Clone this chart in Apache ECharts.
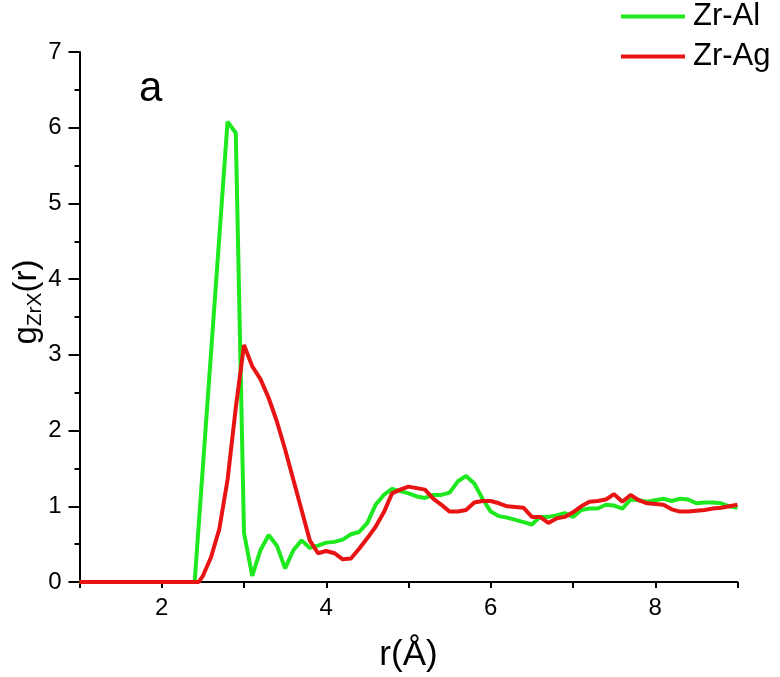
<!DOCTYPE html>
<html>
<head>
<meta charset="utf-8">
<script src="https://cdn.jsdelivr.net/npm/echarts@6/dist/echarts.min.js"></script>
<style>html,body{margin:0;padding:0;background:#fff}#c{width:780px;height:677px}</style>
</head>
<body>
<div id="c"></div>
<script>
var seriesNames = ['Zr-Al', 'Zr-Ag'];
var rAl = [1.0, 2.4, 2.8, 2.9, 3.0, 3.1, 3.2, 3.3, 3.4, 3.5, 3.6, 3.7, 3.8, 3.9, 4.0, 4.1, 4.2, 4.3, 4.4, 4.5, 4.6, 4.7, 4.8, 4.9, 5.0, 5.1, 5.2, 5.3, 5.4, 5.5, 5.6, 5.7, 5.8, 5.9, 6.0, 6.1, 6.2, 6.3, 6.4, 6.5, 6.6, 6.7, 6.8, 6.9, 7.0, 7.1, 7.2, 7.3, 7.4, 7.5, 7.6, 7.7, 7.8, 7.9, 8.0, 8.1, 8.2, 8.3, 8.4, 8.5, 8.6, 8.7, 8.8, 8.9, 9.0];
var gAl = [0, 0, 6.08, 5.93, 0.65, 0.08, 0.42, 0.62, 0.48, 0.18, 0.42, 0.55, 0.45, 0.48, 0.52, 0.53, 0.56, 0.63, 0.66, 0.78, 1.02, 1.15, 1.23, 1.20, 1.17, 1.13, 1.11, 1.15, 1.15, 1.18, 1.33, 1.40, 1.30, 1.10, 0.93, 0.87, 0.85, 0.82, 0.79, 0.76, 0.86, 0.86, 0.88, 0.91, 0.86, 0.95, 0.97, 0.97, 1.02, 1.01, 0.97, 1.09, 1.08, 1.06, 1.08, 1.10, 1.07, 1.10, 1.09, 1.04, 1.05, 1.05, 1.04, 1.00, 0.98];
var rAg = [1.0, 2.45, 2.5, 2.6, 2.7, 2.8, 2.9, 3.0, 3.1, 3.2, 3.3, 3.4, 3.5, 3.6, 3.7, 3.8, 3.9, 4.0, 4.1, 4.2, 4.3, 4.4, 4.5, 4.6, 4.7, 4.8, 4.9, 5.0, 5.1, 5.2, 5.3, 5.4, 5.5, 5.6, 5.7, 5.8, 5.9, 6.0, 6.1, 6.2, 6.3, 6.4, 6.5, 6.6, 6.7, 6.8, 6.9, 7.0, 7.1, 7.2, 7.3, 7.4, 7.5, 7.6, 7.7, 7.8, 7.9, 8.0, 8.1, 8.2, 8.3, 8.4, 8.5, 8.6, 8.7, 8.8, 8.9, 9.0];
var gAg = [0, 0, 0.08, 0.33, 0.70, 1.35, 2.30, 3.13, 2.85, 2.68, 2.43, 2.12, 1.75, 1.35, 0.95, 0.55, 0.38, 0.41, 0.38, 0.30, 0.31, 0.44, 0.58, 0.73, 0.92, 1.17, 1.22, 1.26, 1.24, 1.22, 1.10, 1.02, 0.93, 0.93, 0.95, 1.05, 1.07, 1.07, 1.04, 1.00, 0.99, 0.98, 0.86, 0.86, 0.78, 0.84, 0.86, 0.92, 1.00, 1.06, 1.07, 1.09, 1.16, 1.06, 1.15, 1.08, 1.04, 1.03, 1.02, 0.96, 0.93, 0.93, 0.94, 0.95, 0.97, 0.98, 1.00, 1.02];
var xTickLabels = ['2', '4', '6', '8'];
var yTickLabels = ['0', '1', '2', '3', '4', '5', '6', '7'];

function pairs(xs, ys) { return xs.map(function (x, i) { return [x, ys[i]]; }); }

var mainFont = 'Liberation Sans';

var chart = echarts.init(document.getElementById('c'));
chart.setOption({
  animation: false,
  backgroundColor: '#fff',
  grid: { left: 79.5, right: 42.5, top: 52, bottom: 95, containLabel: false, outerBoundsMode: 'none' },
  legend: {
    orient: 'vertical', left: 621, top: 1, padding: 0, itemGap: 9,
    itemWidth: 64, itemHeight: 4, icon: 'rect',
    textStyle: { fontSize: 31, fontFamily: mainFont, color: '#000', padding: [0, 0, 0, 3] },
    data: seriesNames
  },
  xAxis: {
    type: 'value', min: 1, max: 9, interval: 1,
    name: 'r(Å)', nameLocation: 'middle', nameGap: 56,
    nameTextStyle: { fontSize: 35, fontFamily: mainFont, color: '#000' },
    axisLine: { show: true, onZero: false, lineStyle: { color: '#000', width: 2 } },
    axisTick: { show: true, inside: false, length: 6, lineStyle: { color: '#000', width: 2 } },
    axisLabel: {
      margin: 14, fontSize: 24, fontFamily: mainFont, color: '#000',
      formatter: function (v) { var s = String(v); return xTickLabels.indexOf(s) >= 0 ? s : ''; }
    },
    splitLine: { show: false }
  },
  yAxis: {
    type: 'value', min: 0, max: 7, interval: 1,
    axisLine: { show: true, lineStyle: { color: '#000', width: 2 } },
    axisTick: { show: true, inside: false, length: 11, lineStyle: { color: '#000', width: 2 } },
    minorTick: { show: true, splitNumber: 2, length: 5, lineStyle: { color: '#000', width: 2 } },
    axisLabel: {
      margin: 18, fontSize: 24, fontFamily: mainFont, color: '#000',
      formatter: function (v) { var s = String(v); return yTickLabels.indexOf(s) >= 0 ? s : ''; }
    },
    splitLine: { show: false }
  },
  graphic: [{
    type: 'text', left: 139, top: 68,
    style: { text: 'a', fontSize: 42, fontFamily: mainFont, fill: '#000' }
  }, {
    type: 'text', x: 27, y: 302, rotation: Math.PI / 2,
    style: {
      text: '{g|g}{s|ZrX}{g|(r)}', align: 'center', verticalAlign: 'middle',
      fontFamily: mainFont, fill: '#000',
      rich: {
        g: { fontSize: 33, fontFamily: mainFont, fill: '#000' },
        s: { fontSize: 21, fontFamily: mainFont, fill: '#000', padding: [16, 0, 0, 0] }
      }
    }
  }],
  series: [
    { name: seriesNames[0], type: 'line', data: pairs(rAl, gAl), showSymbol: false, symbol: 'none',
      lineStyle: { color: '#1ee81e', width: 4 }, itemStyle: { color: '#1ee81e' }, z: 2 },
    { name: seriesNames[1], type: 'line', data: pairs(rAg, gAg), showSymbol: false, symbol: 'none',
      lineStyle: { color: '#e81414', width: 4 }, itemStyle: { color: '#e81414' }, z: 3 }
  ]
});
</script>
</body>
</html>
